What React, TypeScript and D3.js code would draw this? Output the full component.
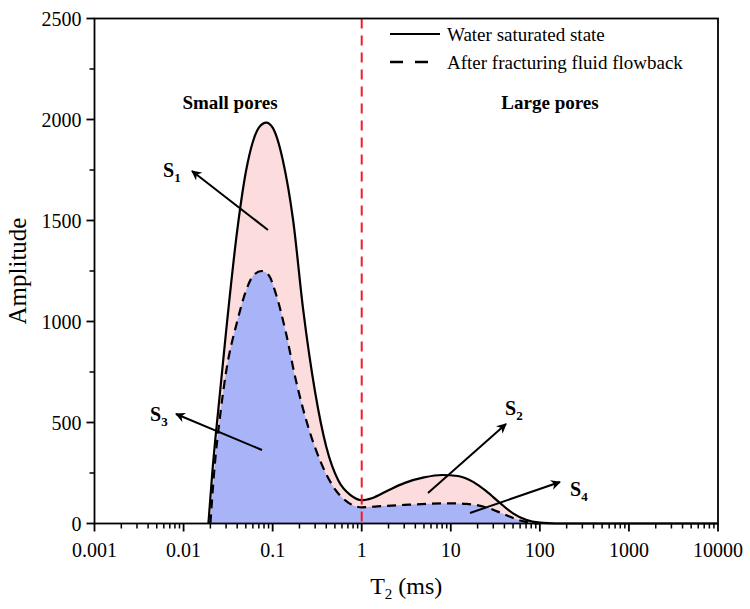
import * as d3 from 'd3';

const waterT2 = [0.019, 0.021, 0.025, 0.03, 0.04, 0.05, 0.06, 0.07, 0.085, 0.1, 0.13, 0.17, 0.22, 0.3, 0.4, 0.55, 0.75, 1, 1.3, 2, 3, 5, 8, 12, 18, 25, 35, 50, 70, 100, 150, 10000];
const waterAmp = [0, 250, 600, 950, 1450, 1740, 1890, 1960, 1985, 1960, 1800, 1500, 1060, 650, 380, 210, 140, 115, 125, 165, 200, 228, 240, 235, 205, 160, 105, 50, 18, 4, 0, 0];
const flowT2 = [0.02, 0.022, 0.026, 0.03, 0.04, 0.05, 0.06, 0.075, 0.09, 0.11, 0.14, 0.18, 0.25, 0.35, 0.5, 0.7, 1, 1.5, 3, 6, 10, 15, 25, 40, 60, 80, 100];
const flowAmp = [0, 250, 550, 750, 1000, 1150, 1225, 1250, 1230, 1130, 950, 720, 480, 300, 170, 105, 80, 85, 92, 98, 100, 97, 80, 45, 15, 3, 0];
const xTicks = [0.001, 0.01, 0.1, 1, 10, 100, 1000, 10000];
const xTickLabels = ['0.001', '0.01', '0.1', '1', '10', '100', '1000', '10000'];
const yTicks = [0, 500, 1000, 1500, 2000, 2500];

const W = 750, H = 609;
const L = 94.5, R = 718, T = 18.5, B = 523.5;
const FONT = "'Liberation Serif', 'Times New Roman', serif";

export default function App() {
  const x = d3.scaleLog().domain([0.001, 10000]).range([L, R]);
  const y = d3.scaleLinear().domain([0, 2500]).range([B, T]);
  const water = waterT2.map((t, i) => [t, waterAmp[i]] as [number, number]);
  const flow = flowT2.map((t, i) => [t, flowAmp[i]] as [number, number]);
  const line = d3.line<[number, number]>().x(d => x(d[0])).y(d => y(d[1])).curve(d3.curveMonotoneX);
  const area = d3.area<[number, number]>().x(d => x(d[0])).y0(B).y1(d => y(d[1])).curve(d3.curveMonotoneX);

  const minor: number[] = [];
  for (let e = -3; e < 4; e++) for (let k = 2; k <= 9; k++) minor.push(k * Math.pow(10, e));
  const yMinor = d3.range(250, 2500, 500);

  const arrows = [
    { from: [268, 230], to: [192, 171], sub: '1', lx: 163, ly: 177 },
    { from: [262, 450], to: [176, 414], sub: '3', lx: 150, ly: 421 },
    { from: [428, 493], to: [506, 424], sub: '2', lx: 505, ly: 415 },
    { from: [470, 513], to: [560, 482], sub: '4', lx: 570, ly: 496 },
  ];

  return (
    <svg width={W} height={H} style={{ position: 'absolute', left: 0, top: 0, background: '#fff', fontFamily: FONT }}>
      <defs>
        <marker id="ah" viewBox="0 0 10 10" refX="9" refY="5" markerWidth="5" markerHeight="5" orient="auto">
          <path d="M0,0 L10,5 L0,10 L3,5 z" fill="#000" />
        </marker>
      </defs>
      <path d={area(water) ?? ''} fill="#fcdcdc" />
      <path d={area(flow) ?? ''} fill="#a8b3f8" />
      <path d={line(water) ?? ''} fill="none" stroke="#000" strokeWidth={2.2} />
      <path d={line(flow) ?? ''} fill="none" stroke="#000" strokeWidth={2.2} strokeDasharray="9,6" />
      <line x1={x(1)} x2={x(1)} y1={T} y2={B} stroke="#f01c24" strokeWidth={2} strokeDasharray="10,7" />

      {/* frame */}
      <rect x={L} y={T} width={R - L} height={B - T} fill="none" stroke="#000" strokeWidth={1.8} />
      {xTicks.map((t, i) => (
        <g key={t}>
          <line x1={x(t)} x2={x(t)} y1={B} y2={B + 8} stroke="#000" strokeWidth={1.8} />
          <text x={x(t)} y={B + 33} textAnchor="middle" fontSize={20}>{xTickLabels[i]}</text>
        </g>
      ))}
      {minor.map(t => <line key={t} x1={x(t)} x2={x(t)} y1={B} y2={B + 5} stroke="#000" strokeWidth={1.5} />)}
      {yTicks.map(t => (
        <g key={t}>
          <line x1={L - 8} x2={L} y1={y(t)} y2={y(t)} stroke="#000" strokeWidth={1.8} />
          <text x={L - 13} y={y(t) + 7} textAnchor="end" fontSize={20}>{t}</text>
        </g>
      ))}
      {yMinor.map(t => <line key={t} x1={L - 5} x2={L} y1={y(t)} y2={y(t)} stroke="#000" strokeWidth={1.5} />)}

      <text transform={`translate(26,${(T + B) / 2}) rotate(-90)`} textAnchor="middle" fontSize={25}>Amplitude</text>
      <text x={(L + R) / 2} y={594} textAnchor="middle" fontSize={24}>T<tspan fontSize={15} dy={5}>2</tspan><tspan dy={-5}> (ms)</tspan></text>

      <text x={230} y={109} textAnchor="middle" fontSize={19} fontWeight="bold">Small pores</text>
      <text x={550} y={109} textAnchor="middle" fontSize={19} fontWeight="bold">Large pores</text>

      {/* legend */}
      <line x1={390} x2={440} y1={34} y2={34} stroke="#000" strokeWidth={2} />
      <text x={447} y={41} fontSize={19}>Water saturated state</text>
      <line x1={390} x2={440} y1={62} y2={62} stroke="#000" strokeWidth={2.5} strokeDasharray="13,12" />
      <text x={447} y={69} fontSize={19}>After fracturing fluid flowback</text>

      {arrows.map((a, i) => (
        <g key={i}>
          <line x1={a.from[0]} x2={a.to[0]} y1={a.from[1]} y2={a.to[1]} stroke="#000" strokeWidth={2} markerEnd="url(#ah)" />
          <text x={a.lx} y={a.ly} fontSize={20} fontWeight="bold">S<tspan fontSize={13} dy={5}>{a.sub}</tspan></text>
        </g>
      ))}
    </svg>
  );
}
